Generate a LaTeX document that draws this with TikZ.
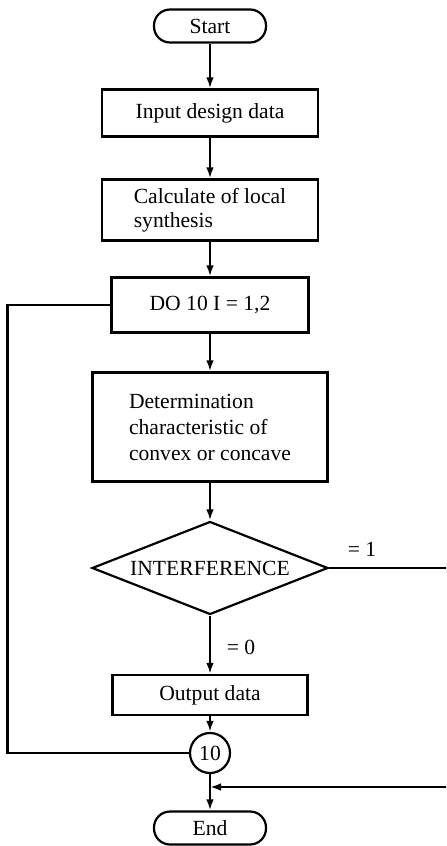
\documentclass[tikz,border=0pt]{standalone}
\usepackage{fontspec}
\setmainfont{Liberation Serif}
\usetikzlibrary{shapes.geometric,arrows.meta}

\begin{document}
\begin{tikzpicture}[x=0.5pt,y=-0.5pt,line width=1.1pt,font=\fontsize{10.8}{12}\selectfont,
  box/.style={draw,rectangle,minimum width=108pt,minimum height=23.5pt},
  term/.style={draw,rectangle,rounded corners=8pt,minimum width=56pt,minimum height=16.5pt},
  arr/.style={-{Latex[length=5.5pt,width=3.8pt]}}]
\clip (0,0) rectangle (446,846);

\node[term] (start) at (210,26) {Start};
\node[box] (input) at (210,113) {Input design data};
\node[box,minimum height=30.5pt,align=left] (calc) at (210,210) {Calculate of local\\synthesis};
\node[box,minimum width=98.5pt,minimum height=27.5pt] (loop) at (210,305) {DO 10 I = 1,2};
\node[box,minimum width=117.5pt,minimum height=54.5pt,align=left,
  font=\fontsize{10.8}{13}\selectfont] (determ) at (210,427) {Determination\\characteristic of\\convex or concave};
\node[draw,diamond,aspect=2.5,inner sep=0pt,minimum width=118pt,minimum height=46.5pt] (dia) at (210,568) {INTERFERENCE};
\node[box,minimum width=97.5pt,minimum height=20pt] (out) at (210,695) {Output data};
\node[draw,circle,minimum size=20pt,inner sep=0pt] (ten) at (210,753) {10};
\node[term] (end) at (210,828) {End};

\node (one) at (362,549) {= 1};
\node (zero) at (241,647) {= 0};
\coordinate (mrg) at (210,787);

\draw[arr] (start) -- (input);
\draw[arr] (input) -- (calc);
\draw[arr] (calc) -- (loop);
\draw[arr] (loop) -- (determ);
\draw[arr] (determ) -- (dia);
\draw[arr] (dia) -- (out);
\draw[arr] (out) -- (ten);
\draw (ten) -- (mrg);
\draw[arr] (mrg) -- (end);

% loop back and jump out
\draw (loop.west) -- ++(-103,0) |- (ten.west);
\draw[arr] (dia.east) -- ++(160,0) |- (mrg);
\end{tikzpicture}
\end{document}
